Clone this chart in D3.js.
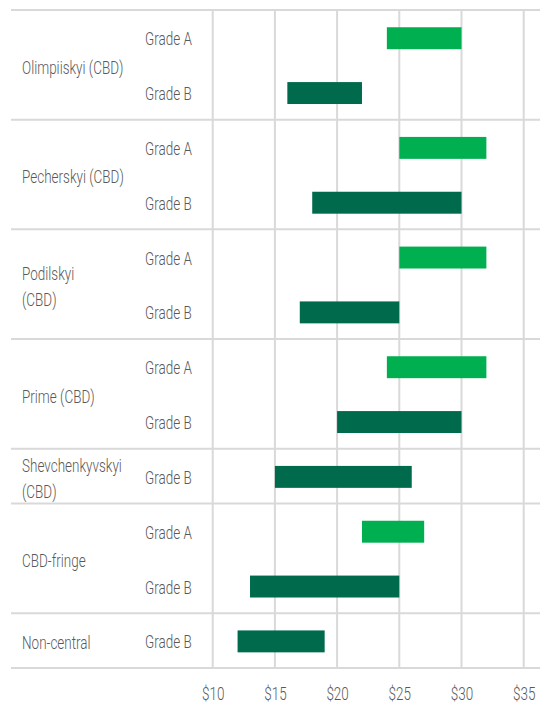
<!DOCTYPE html>
<html>
<head>
<meta charset="utf-8">
<style>
body { margin: 0; background: #fff; }
text {
  fill: #595959;
  font-family: Roboto, "DejaVu Sans", sans-serif;
  font-weight: 300;
  font-size: 19px;
}
.grid line { stroke: #d9d9d9; stroke-width: 2px; }
</style>
</head>
<body>
<script src="https://cdn.jsdelivr.net/npm/d3@7"></script>
<script>

// districts (multi-line labels split into lines)
var districts = [
  ["Olimpiiskyi (CBD)"],
  ["Pecherskyi (CBD)"],
  ["Podilskyi", "(CBD)"],
  ["Prime (CBD)"],
  ["Shevchenkyvskyi", "(CBD)"],
  ["CBD-fringe"],
  ["Non-central"]
];
// one row per bar
var rowDistrict = [0, 0, 1, 1, 2, 2, 3, 3, 4, 5, 5, 6];
var rowGrade    = ["Grade A", "Grade B", "Grade A", "Grade B", "Grade A", "Grade B",
                   "Grade A", "Grade B", "Grade B", "Grade A", "Grade B", "Grade B"];
var rentLow     = [24, 16, 25, 18, 25, 17, 24, 20, 15, 22, 13, 12];
var rentHigh    = [30, 22, 32, 30, 32, 25, 32, 30, 26, 27, 25, 19];
var xTicks      = [10, 15, 20, 25, 30, 35];

var width = 549, height = 704;
var plotLeft = 11, plotRight = 540, plotTop = 10, plotBottom = 668;
var squeeze = "scale(0.71,1)";   // narrow the font to look condensed

var svg = d3.select("body").append("svg")
    .attr("width", width)
    .attr("height", height);

var rows = rowGrade.map(function(g, i) { return i; });

var x = d3.scaleLinear().domain([10, 35]).range([212.7, 523.7]);
var y = d3.scaleBand().domain(rows).range([plotTop, plotBottom]).padding(0);

var color = d3.scaleOrdinal()
    .domain(["Grade A", "Grade B"])
    .range(["#00b050", "#006a4d"]);

var grid = svg.append("g").attr("class", "grid");

// vertical gridlines
grid.selectAll("line.v")
    .data(xTicks)
    .enter().append("line")
    .attr("class", "v")
    .attr("x1", function(d) { return x(d); })
    .attr("x2", function(d) { return x(d); })
    .attr("y1", plotTop)
    .attr("y2", plotBottom);

// group separators (top of each district + bottom line)
var bounds = districts.map(function(d, i) {
  return y(rowDistrict.indexOf(i));
});
bounds.push(plotBottom);

grid.selectAll("line.h")
    .data(bounds)
    .enter().append("line")
    .attr("class", "h")
    .attr("x1", plotLeft)
    .attr("x2", plotRight)
    .attr("y1", function(d) { return d; })
    .attr("y2", function(d) { return d; });

// range bars
var bh = y.bandwidth() * 0.4;
svg.append("g")
  .selectAll("rect")
  .data(rows)
  .enter().append("rect")
    .attr("x", function(i) { return x(rentLow[i]); })
    .attr("width", function(i) { return x(rentHigh[i]) - x(rentLow[i]); })
    .attr("y", function(i) { return y(i) + y.bandwidth() / 2 - bh / 2 + 0.8; })
    .attr("height", bh)
    .attr("fill", function(i) { return color(rowGrade[i]); });

// grade labels
svg.append("g")
  .selectAll("text")
  .data(rows)
  .enter().append("text")
    .attr("transform", function(i) {
      return "translate(145," + (y(i) + y.bandwidth() / 2 + 1) + ")" + squeeze;
    })
    .attr("dy", "0.36em")
    .text(function(i) { return rowGrade[i]; });

// district labels
var lineH = 25.5;
var dl = svg.append("g")
  .selectAll("text")
  .data(districts)
  .enter().append("text")
    .attr("transform", function(d, i) {
      var mid = (bounds[i] + bounds[i + 1]) / 2;
      return "translate(22," + (mid - (d.length - 1) * lineH / 2 + 2) + ")" + squeeze;
    });

dl.selectAll("tspan")
  .data(function(d) { return d; })
  .enter().append("tspan")
    .attr("x", 0)
    .attr("dy", function(d, j) { return j === 0 ? "0.36em" : lineH; })
    .text(function(d) { return d; });

// x axis labels
var xAxis = d3.axisBottom(x)
    .tickValues(xTicks)
    .tickSize(0)
    .tickPadding(0)
    .tickFormat(function(d) { return "$" + d; });

var ax = svg.append("g")
    .attr("transform", "translate(0," + 687 + ")")
    .call(xAxis);
ax.select(".domain").remove();
ax.attr("font-family", null).attr("font-size", null);
ax.selectAll("text")
    .attr("fill", "#595959")
    .attr("transform", squeeze)
    .attr("dy", "0.71em");

</script>
</body>
</html>
